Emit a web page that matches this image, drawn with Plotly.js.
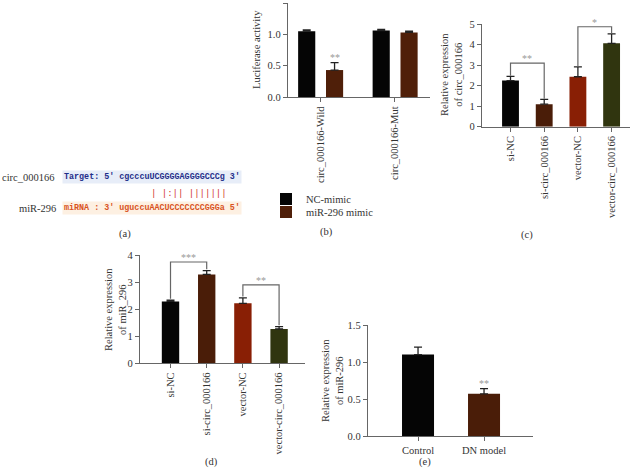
<!DOCTYPE html>
<html>
<head>
<meta charset="utf-8">
<script src="https://cdn.plot.ly/plotly-3.0.1.min.js"></script>
<style>body{margin:0;background:#fff}#chart{width:639px;height:476px}</style>
</head>
<body>
<div id="chart"></div>
<script>
// (a) 結合配列
const targetName = 'circ_000166';
const targetSeq = "Target: 5' cgcccuUCGGGGAGGGGCCCg 3'";
const pairLine = '| |:|| |||||||';
const mirName = 'miR-296';
const mirSeq = "miRNA : 3' uguccuAACUCCCCCCCGGGa 5'";

// (b) ルシフェラーゼ活性
const bGroups = ['circ_000166-Wild', 'circ_000166-Mut'];
const bSeries = ['NC-mimic', 'miR-296 mimic'];
const bNC = [1.05, 1.06];
const bNCErr = [0.02, 0.02];
const bMiR = [0.43, 1.03];
const bMiRErr = [0.12, 0.02];
const bStars = ['**', ''];

// (c) circ_000166 発現
const cGroups = ['si-NC', 'si-circ_000166', 'vector-NC', 'vector-circ_000166'];
const cVals = [2.25, 1.10, 2.44, 4.07];
const cErr = [0.21, 0.23, 0.48, 0.46];
const cSig = [[0, 1, '**'], [2, 3, '*']];
const cSigLevel = [3.1, 4.88];

// (d) miR_296 発現
const dGroups = ['si-NC', 'si-circ_000166', 'vector-NC', 'vector-circ_000166'];
const dVals = [2.28, 3.28, 2.21, 1.26];
const dErr = [0.05, 0.14, 0.20, 0.09];
const dSig = [[0, 1, '***'], [2, 3, '**']];
const dSigLevel = [3.74, 2.89];

// (e) DN モデル
const eGroups = ['Control', 'DN model'];
const eVals = [1.10, 0.57];
const eErr = [0.10, 0.07];
const eStars = ['', '**'];

const W = 639, H = 476;
const px = x => x / W;
const py = y => 1 - y / H;
const barColors = ['#050505', '#4a1d08', '#891f05', '#30350f'];
const serif = '"Liberation Serif", "Times New Roman", serif';
const mono = '"Liberation Mono", "Courier New", monospace';

const shapes = [];
const annotations = [];

function errY(errs) {
  return {type: 'data', array: errs, arrayminus: errs.map(() => 0), symmetric: false,
    color: '#222', thickness: 1.3, width: 4};
}

function bars(vals, errs, xa, ya, width) {
  return {
    type: 'bar', x: vals.map((v, i) => i), y: vals, width: width,
    marker: {color: barColors.slice(0, vals.length)},
    error_y: errY(errs), xaxis: xa, yaxis: ya, showlegend: false, hoverinfo: 'none'
  };
}

// 有意差ブラケット
function brackets(sig, levels, vals, errs, xr, yr, gap) {
  sig.forEach(([a, b, label], k) => {
    const lv = levels[k];
    const ya = vals[a] + errs[a] + gap, yb = vals[b] + errs[b] + gap;
    shapes.push({type: 'path', xref: xr, yref: yr,
      path: `M${a},${ya} L${a},${lv} L${b},${lv} L${b},${yb}`,
      line: {color: '#666', width: 1.2}});
    annotations.push({xref: xr, yref: yr, x: (a + b) / 2, y: lv, text: label, showarrow: false,
      yanchor: 'bottom', yshift: -3, font: {size: 10, color: '#999', family: serif}});
  });
}

function xAxis(dom, range, ticks, anchor, angle) {
  return {domain: dom, range: range, anchor: anchor,
    tickvals: ticks.map((t, i) => i), ticktext: ticks, tickangle: angle,
    showline: true, linecolor: '#666', linewidth: 1.2, ticks: 'outside', ticklen: 4,
    tickcolor: '#666', showgrid: false, zeroline: false, fixedrange: true,
    tickfont: {size: 10.5, family: serif, color: '#333'}};
}

function yAxis(dom, range, dtick, fmt, anchor) {
  return {domain: dom, range: range, dtick: dtick, tickformat: fmt, anchor: anchor,
    showline: true, linecolor: '#666', linewidth: 1.2, ticks: 'outside', ticklen: 4,
    tickcolor: '#666', showgrid: false, zeroline: false, fixedrange: true,
    tickfont: {size: 10.5, family: serif, color: '#333'}};
}

const data = [];

// (b)
data.push({
  type: 'bar', name: bSeries[0], x: bGroups.map((g, i) => i), y: bNC, width: 0.23, offset: -0.30,
  marker: {color: barColors[0]}, error_y: errY(bNCErr), xaxis: 'x', yaxis: 'y', legend: 'legend', hoverinfo: 'none'
});
data.push({
  type: 'bar', name: bSeries[1], x: bGroups.map((g, i) => i), y: bMiR, width: 0.23, offset: 0.074,
  marker: {color: '#4f1f09'}, error_y: errY(bMiRErr), xaxis: 'x', yaxis: 'y', legend: 'legend2', hoverinfo: 'none'
});
bStars.forEach((s, i) => {
  if (!s) return;
  annotations.push({xref: 'x', yref: 'y', x: i + 0.074 + 0.115, y: bMiR[i] + bMiRErr[i], text: s,
    showarrow: false, yanchor: 'bottom', yshift: -2, font: {size: 10, color: '#999', family: serif}});
});

// (c)
data.push(bars(cVals, cErr, 'x2', 'y2', 0.5));
brackets(cSig, cSigLevel, cVals, cErr, 'x2', 'y2', 0.03);

// (d)
data.push(bars(dVals, dErr, 'x3', 'y3', 0.48));
brackets(dSig, dSigLevel, dVals, dErr, 'x3', 'y3', 0.05);

// (e)
data.push(bars(eVals, eErr, 'x4', 'y4', 0.485));
eStars.forEach((s, i) => {
  if (!s) return;
  annotations.push({xref: 'x4', yref: 'y4', x: i, y: eVals[i] + eErr[i], text: s,
    showarrow: false, yanchor: 'bottom', yshift: -2, font: {size: 10, color: '#999', family: serif}});
});

// 軸タイトル
function yTitle(text, x, y) {
  annotations.push({xref: 'paper', yref: 'paper', x: px(x), y: py(y), text: text, textangle: -90,
    showarrow: false, xanchor: 'center', yanchor: 'middle',
    font: {size: 10.5, family: serif, color: '#333'}});
}
yTitle('Luciferase activity', 257, 50);
yTitle('Relative expression<br>of circ_000166', 451, 75);
yTitle('Relative expression<br>of miR_296', 115, 309);
yTitle('Relative expression<br>of miR-296', 332, 380);

// パネルラベル
[['(a)', 117, 234], ['(b)', 327, 232], ['(c)', 535, 235], ['(d)', 203, 470], ['(e)', 425, 470]]
  .forEach(([t, x, y]) => annotations.push({xref: 'paper', yref: 'paper', x: px(x), y: py(y), text: t,
    showarrow: false, font: {size: 10.5, family: serif, color: '#333'}}));

// (a) 配列
annotations.push({xref: 'paper', yref: 'paper', x: px(57), y: py(177), text: targetName, xanchor: 'right',
  showarrow: false, font: {size: 10.5, family: serif, color: '#333'}});
annotations.push({xref: 'paper', yref: 'paper', x: px(62), y: py(177), text: '<b>' + targetSeq + '</b>', xanchor: 'left',
  showarrow: false, bgcolor: '#e7edf8', font: {size: 8.4, family: mono, color: '#1f2f8a'}});
annotations.push({xref: 'paper', yref: 'paper', x: px(149), y: py(194), text: pairLine, xanchor: 'left',
  showarrow: false, font: {size: 9, family: mono, color: '#d0332b'}});
annotations.push({xref: 'paper', yref: 'paper', x: px(58), y: py(208), text: mirName, xanchor: 'right',
  showarrow: false, font: {size: 10.5, family: serif, color: '#333'}});
annotations.push({xref: 'paper', yref: 'paper', x: px(62), y: py(208), text: '<b>' + mirSeq + '</b>', xanchor: 'left',
  showarrow: false, bgcolor: '#fdf0e2', font: {size: 8.4, family: mono, color: '#d9531e'}});

const legendBase = {xanchor: 'left', yanchor: 'middle', bgcolor: 'rgba(0,0,0,0)',
  font: {size: 10.5, family: serif, color: '#333'}, itemclick: false, itemdoubleclick: false};

const layout = {
  width: W, height: H,
  margin: {l: 0, r: 0, t: 0, b: 0},
  paper_bgcolor: '#fff', plot_bgcolor: 'rgba(0,0,0,0)',
  font: {family: serif, size: 10.5, color: '#333'},
  barmode: 'overlay',
  xaxis: xAxis([px(288), px(430)], [-0.436, 1.47], bGroups, 'y', -90),
  yaxis: yAxis([py(97), py(3)], [0, 1.5], 0.5, '.1f', 'x'),
  xaxis2: xAxis([px(482), px(630)], [-0.846, 3.546], cGroups, 'y2', -90),
  yaxis2: yAxis([py(126.7), py(24.3)], [0, 5], 1, 'd', 'x2'),
  xaxis3: xAxis([px(140), px(305)], [-0.843, 3.716], dGroups, 'y3', -90),
  yaxis3: yAxis([py(363), py(255)], [0, 4], 1, 'd', 'x3'),
  xaxis4: xAxis([px(368), px(533)], [-0.758, 1.742], eGroups, 'y4', 0),
  yaxis4: yAxis([py(436), py(325)], [0, 1.5], 0.5, '.1f', 'x4'),
  legend: Object.assign({x: px(266), y: py(199)}, legendBase),
  legend2: Object.assign({x: px(266), y: py(212)}, legendBase),
  shapes: shapes,
  annotations: annotations,
  showlegend: true
};

Plotly.newPlot('chart', data, layout, {displayModeBar: false, staticPlot: true});
</script>
</body>
</html>
